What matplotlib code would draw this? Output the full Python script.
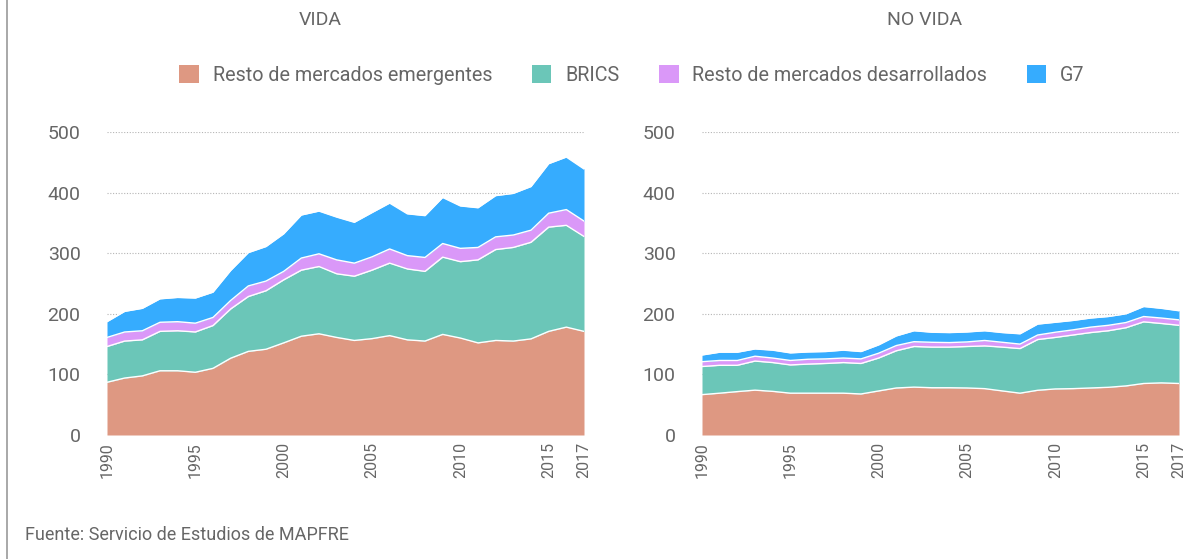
import matplotlib
matplotlib.use('Agg')
import matplotlib.pyplot as plt
from matplotlib.patches import Patch
from matplotlib.lines import Line2D

plt.rcParams['font.family'] = ['Roboto', 'DejaVu Sans']

years = list(range(1990, 2018))

series_names = ['Resto de mercados emergentes', 'BRICS',
                'Resto de mercados desarrollados', 'G7']
colors = ['#DE9882', '#6BC6B8', '#DA98F8', '#36ACFE']

# VIDA: cumulative tops
vida_emerg = [87, 94, 97.5, 106, 106, 103.5, 110, 126.7, 138, 141.5, 152, 163, 167, 161,
              156, 159, 164, 157, 155, 166, 160, 152, 156, 155, 158.6, 171, 178, 171]
vida_brics_top = [146, 155, 157, 171, 172, 170, 180.6, 208, 228.5, 238, 256, 272, 278, 266,
                  262, 272, 283.6, 274, 270, 293.5, 286, 289, 306, 309.5, 318, 343, 346, 327.6]
vida_desarr_top = [161, 170, 172, 186, 187, 184.5, 194, 222, 246, 254, 270, 292, 299, 289,
                   283.6, 294, 307, 296, 293, 316, 308, 309.5, 327, 330, 338, 366, 372, 353]
vida_g7_top = [187, 204, 209, 224.7, 227, 226, 235.7, 271.5, 301, 311, 332, 363, 369.5, 359.6,
               351, 367, 382.7, 365, 362, 392, 378, 375, 395, 398.7, 410, 447.7, 458.7, 439]

# NO VIDA
novida_emerg = [66.6, 69, 71.6, 74, 72, 69, 69, 69, 69, 67.7, 72.7, 77.6, 79, 78,
                78, 77.6, 76.5, 72.7, 69, 73.8, 76, 76.5, 77.6, 78.7, 81, 85, 86, 85]
novida_brics_top = [113, 115, 115, 122, 119.5, 115.6, 117, 118, 119.5, 118, 127, 139, 146, 145,
                    145, 146, 147, 145, 142.6, 157.5, 161, 165, 169, 172, 177, 186.7, 184, 181]
novida_desarr_top = [121, 123, 123, 130, 127, 123, 125, 125.6, 127, 125.6, 135, 147.6, 154, 153,
                     152.5, 153.6, 156, 153, 150, 165, 169.6, 173.5, 178, 181, 185.6, 195.5, 193, 190]
novida_g7_top = [132, 136.6, 136.6, 142, 140, 135.5, 137, 137.7, 140, 137.7, 148.7, 163.5, 172, 169.6,
                 169, 170, 172, 169, 167, 183, 186, 189, 193, 195.5, 200, 212, 209, 205]

xticks = [1990, 1995, 2000, 2005, 2010, 2015, 2017]
yticks = [0, 100, 200, 300, 400, 500]

grey = '#666666'

fig = plt.figure(figsize=(12.03, 5.59), dpi=100)

W, H = 1203, 559


def make_ax(left_px, right_px):
    return fig.add_axes([left_px / W, (H - 435) / H, (right_px - left_px) / W, (435 - 132) / H])


def draw(ax, tops):
    layers = [[0] * len(years)] + tops
    for i in range(4):
        ax.fill_between(years, layers[i], layers[i + 1], color=colors[i], lw=0, zorder=2)
        ax.plot(years, layers[i + 1], color='white', lw=1.0, zorder=3)
    ax.set_xlim(1990, 2017)
    ax.set_ylim(0, 500)
    ax.set_yticks(yticks)
    ax.set_xticks(xticks)
    ax.set_xticklabels([str(x) for x in xticks], rotation=90, fontsize=11.5, color=grey)
    ax.set_yticklabels([str(y) for y in yticks], fontsize=14, color=grey)
    ax.tick_params(axis='y', length=0, pad=19)
    ax.tick_params(axis='x', length=0, pad=5)
    ax.grid(axis='y', color='#b5b5b5', ls=(0, (1, 1.5)), lw=0.8, zorder=1)
    ax.set_axisbelow(True)
    for s in ax.spines.values():
        s.set_visible(False)


ax1 = make_ax(107, 584)
draw(ax1, [vida_emerg, vida_brics_top, vida_desarr_top, vida_g7_top])
ax2 = make_ax(702, 1179)
draw(ax2, [novida_emerg, novida_brics_top, novida_desarr_top, novida_g7_top])

fig.text(320 / W, 1 - 20 / H, 'VIDA', ha='center', va='center', fontsize=14, color=grey)
fig.text(925 / W, 1 - 20 / H, 'NO VIDA', ha='center', va='center', fontsize=14, color=grey)

handles = [Patch(facecolor=c, edgecolor='none') for c in colors]
fig.legend(handles, series_names, loc='center', bbox_to_anchor=(632 / W, 1 - 75 / H),
           ncol=4, frameon=False, fontsize=14.2, labelcolor=grey,
           handlelength=1.0, handleheight=1.0, handletextpad=0.7, columnspacing=2.0)

fig.text(25 / W, 1 - 535 / H, 'Fuente: Servicio de Estudios de MAPFRE', ha='left', va='center',
         fontsize=13, color=grey)

fig.add_artist(Line2D([7 / W, 7 / W], [0, 1], transform=fig.transFigure, color='#999999', lw=1.2))

fig.savefig('out.png', dpi=100)
